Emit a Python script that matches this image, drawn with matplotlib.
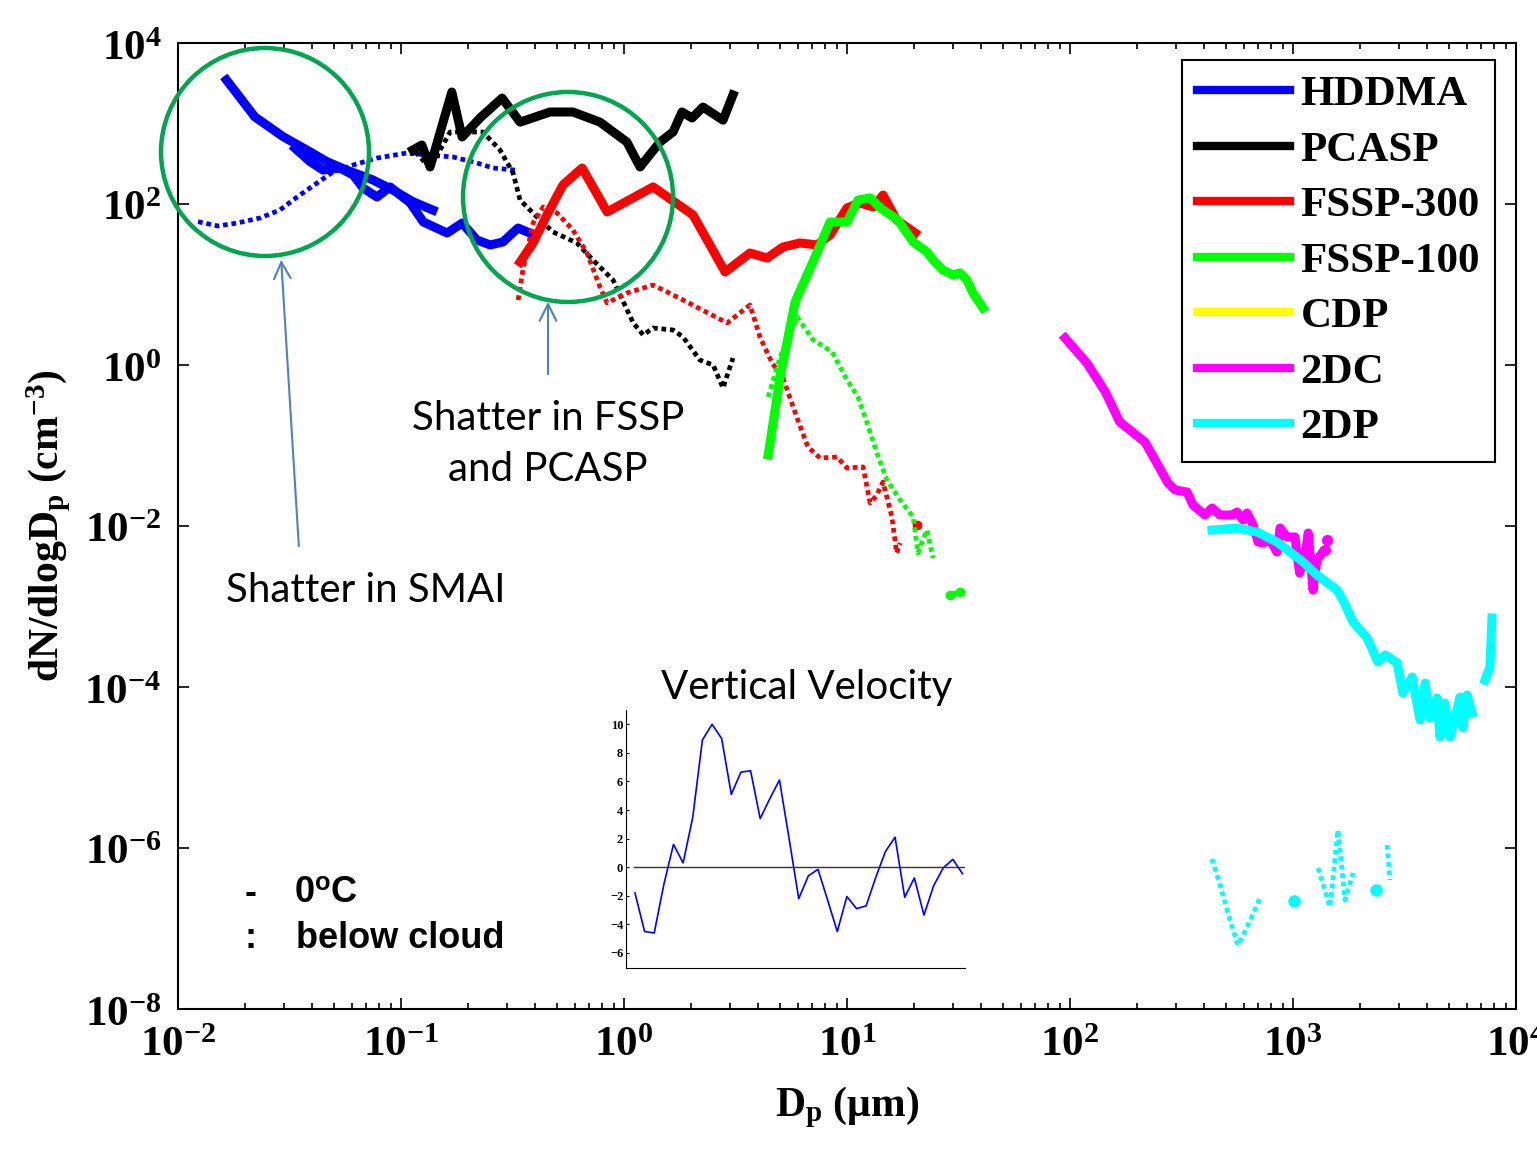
import numpy as np
import matplotlib
matplotlib.use("Agg")
import matplotlib.pyplot as plt
from matplotlib.patches import Ellipse, FancyArrowPatch
from matplotlib.lines import Line2D
from matplotlib.ticker import FuncFormatter, LogLocator, NullLocator, FixedLocator

plt.rcParams["mathtext.fontset"] = "custom"
plt.rcParams["mathtext.rm"] = "Liberation Serif:bold"
plt.rcParams["mathtext.it"] = "Liberation Serif:bold:italic"
plt.rcParams["mathtext.bf"] = "Liberation Serif:bold"
plt.rcParams["mathtext.sf"] = "Liberation Sans:bold"

# ---- size distributions (Dp in um, dN/dlogDp in cm^-3) ----
hddma_d1 = [0.0165, 0.0221, 0.0296, 0.0378, 0.0465, 0.057, 0.0748, 0.092, 0.113, 0.139]
hddma_n1 = [3470, 1210, 686, 469, 336, 264, 199, 149, 107, 84]
hddma_d2 = [0.0335, 0.0391, 0.0447, 0.0532, 0.061, 0.0676, 0.078, 0.0893, 0.110, 0.126,
            0.161, 0.188, 0.219, 0.251, 0.286, 0.335, 0.378]
hddma_n2 = [492, 336, 264, 280, 229, 158, 122, 163, 103, 59.7, 43.6, 58, 35.7, 31, 33.7, 50.3, 43.6]
hddma_bc_d = [0.0123, 0.0151, 0.0184, 0.0233, 0.0286, 0.0342, 0.042, 0.0495, 0.061, 0.078,
              0.106, 0.131, 0.171, 0.219, 0.259, 0.324]
hddma_bc_n = [60.3, 53.3, 58, 67, 84, 122, 182, 250, 305, 372, 430, 406, 384, 323, 280, 264]

pcasp_d = [0.113, 0.124, 0.135, 0.169, 0.188, 0.226, 0.284, 0.342, 0.466, 0.590, 0.780,
           1.03, 1.18, 1.45, 1.66, 1.82, 2.02, 2.26, 2.78, 3.08]
pcasp_n = [469, 541, 288, 2460, 680, 1170, 2070, 1040, 1390, 1390, 1040, 589, 288, 589,
           784, 1390, 1170, 1600, 1100, 2260]
pcasp_bc_d = [0.116, 0.135, 0.166, 0.233, 0.278, 0.318, 0.342, 0.407, 0.481, 0.615, 0.726,
              0.893, 1.10, 1.22, 1.35, 1.66, 1.84, 2.19, 2.51, 2.78, 3.08]
pcasp_bc_n = [443, 280, 784, 784, 469, 243, 112, 69, 44.9, 32.8, 20.1, 11.4, 3.33, 2.36,
              2.88, 2.72, 2.23, 1.15, 1.0, 0.518, 1.22]

fssp300_d = [0.342, 0.391, 0.456, 0.532, 0.649, 0.840, 1.35, 2.04, 2.84, 3.67, 4.38, 5.16,
             6.15, 7.33, 8.39, 10.0, 11.4, 13.1, 14.5, 16.7, 20.2]
fssp300_n = [19.0, 32.8, 77.3, 172, 280, 79.6, 163, 73, 14.3, 24.6, 21.3, 29.2, 32.8, 31,
             41.2, 89.2, 103, 91.8, 129, 63.3, 43.6]
fssp300_bc_d = [0.335, 0.352, 0.391, 0.434, 0.501, 0.590, 0.682, 0.780, 0.840, 1.03, 1.35,
                1.84, 2.90, 3.67, 4.07, 4.61, 5.16, 5.97, 6.68, 7.56, 9.02, 10.0, 11.8,
                12.7, 13.6, 14.5, 15.9, 16.7, 17.3]
fssp300_bc_n = [6.42, 15.1, 58, 91.8, 77.3, 47.5, 24.6, 9.31, 5.89, 7.84, 9.86, 6.42, 3.33,
                5.56, 2.23, 1.06, 0.690, 0.220, 0.0958, 0.070, 0.0719, 0.0525, 0.0541,
                0.0193, 0.0243, 0.0352, 0.0129, 0.00462, 0.00615]
fssp300_dot_d = [20.6]
fssp300_dot_n = [0.0103]

fssp100_d = [4.43, 5.01, 5.85, 7.19, 8.39, 10.0, 11.2, 12.7, 14.1, 16.9, 19.8, 22.8, 24.3,
             26.9, 29.9, 32.1, 34.5, 36.7, 40.7]
fssp100_n = [0.0762, 0.710, 6.07, 22, 59.7, 59.7, 112, 119, 89.2, 63.3, 33.7, 25.4, 20.1,
             15.1, 13.1, 13.9, 11.4, 7.84, 5.11]
fssp100_bc_d = [4.43, 5.01, 5.97, 7.05, 8.57, 10.0, 11.2, 12.3, 13.6, 15.1, 17.3, 19.8,
                20.8, 22.8, 24.3]
fssp100_bc_n = [0.400, 1.26, 3.95, 2.05, 1.45, 0.651, 0.400, 0.190, 0.0807, 0.0373, 0.0210,
                0.0129, 0.00462, 0.00891, 0.0040]
fssp100_dot_d = [29.0, 32.1]
fssp100_dot_n = [0.00139, 0.00151]

twodc_d = [95, 119, 144, 167, 217, 275, 296, 335, 356, 403, 433, 471, 532, 561, 597, 622,
           662, 697, 733, 789, 847, 875, 940, 1020, 1070, 1130, 1170, 1230, 1280, 1350]
twodc_n = [2.16, 1.06, 0.462, 0.196, 0.110, 0.0342, 0.028, 0.0264, 0.0182, 0.0137, 0.0167,
           0.0137, 0.0137, 0.0149, 0.0119, 0.0145, 0.0103, 0.00632, 0.00617, 0.0067,
           0.00475, 0.00944, 0.0073, 0.0073, 0.0026, 0.00412, 0.00818, 0.0016, 0.00378,
           0.00462]
twodc_dot_d = [1390, 1420]
twodc_dot_n = [0.00503, 0.0067]

twodp_d = [433, 561, 690, 847, 970, 1110, 1280, 1575, 1675, 1860, 2150, 2400, 2590, 2930,
           3110, 3420, 3710, 3910, 4110, 4420, 4560, 4800, 5060, 5320, 5610, 5780, 6030, 6350]
twodp_n = [0.00891, 0.00944, 0.00841, 0.00632, 0.00475, 0.00357, 0.00246, 0.0016, 0.0012,
           0.00064, 0.000406, 0.000205, 0.00025, 0.000199, 8.4e-5, 1.33e-4, 3.9e-5, 1.12e-4,
           4.12e-5, 7.3e-5, 2.39e-5, 6.3e-5, 2.39e-5, 4.12e-5, 7.5e-5, 3.1e-5, 7.96e-5, 4.75e-5]
twodp_d2 = [7260, 7640, 7800]
twodp_n2 = [1.22e-4, 1.77e-4, 7.2e-4]
twodp_bc_d1 = [433, 471, 521, 566, 628, 711]
twodp_bc_n1 = [7.3e-7, 3.47e-7, 1.28e-7, 6.2e-8, 1.10e-7, 2.39e-7]
twodp_bc_d2 = [1295, 1465, 1590, 1710, 1860]
twodp_bc_n2 = [5.65e-7, 1.85e-7, 1.67e-6, 2.26e-7, 4.9e-7]
twodp_bc_d3 = [2640, 2720]
twodp_bc_n3 = [1.09e-6, 4.0e-7]
twodp_dot_d = [1010, 2355]
twodp_dot_n = [2.2e-7, 3.0e-7]

# ---- vertical velocity inset ----
w_vel = [-1.8, -4.5, -4.6, -1.2, 1.6, 0.3, 3.5, 8.9, 10, 9, 5.1, 6.65, 6.75, 3.4, 4.8, 6.1,
         2, -2.2, -0.6, -0.15, -2.3, -4.5, -2.05, -2.9, -2.7, -0.7, 1.1, 2.1, -2.1, -0.75,
         -3.35, -1.3, -0.05, 0.55, -0.45]

instruments = ["HDDMA", "PCASP", "FSSP-300", "FSSP-100", "CDP", "2DC", "2DP"]
colors = ["#0000FF", "#000000", "#FF0000", "#00FF00", "#FFFF00", "#FF00FF", "#00FFFF"]

W, H = 1537, 1153
fig = plt.figure(figsize=(W / 100, H / 100), dpi=100)
ax = fig.add_axes([178 / W, 1 - 1009 / H, (1516 - 178) / W, (1009 - 43) / H])

LW = 6.5
DOT = dict(lw=3.4, linestyle=(0, (1, 0.8)), dash_capstyle="butt")

ax.plot(hddma_d1, hddma_n1, color=colors[0], lw=LW)
ax.plot(hddma_d2, hddma_n2, color=colors[0], lw=LW)
ax.plot(hddma_bc_d, hddma_bc_n, color=colors[0], **DOT)
ax.plot(pcasp_d, pcasp_n, color=colors[1], lw=LW)
ax.plot(pcasp_bc_d, pcasp_bc_n, color=colors[1], **DOT)
ax.plot(fssp300_d, fssp300_n, color=colors[2], lw=LW)
ax.plot(fssp300_bc_d, fssp300_bc_n, color=colors[2], **DOT)
ax.plot(fssp300_dot_d, fssp300_dot_n, "o", color=colors[2], ms=6)
ax.plot(fssp100_d, fssp100_n, color=colors[3], lw=LW)
ax.plot(fssp100_bc_d, fssp100_bc_n, color=colors[3], **DOT)
ax.plot(fssp100_dot_d, fssp100_dot_n, "o-", color=colors[3], ms=6, lw=4)
ax.plot(twodc_d, twodc_n, color=colors[5], lw=LW)
ax.plot(twodc_dot_d, twodc_dot_n, "o", color=colors[5], ms=7)
ax.plot(twodp_d, twodp_n, color=colors[6], lw=LW)
ax.plot(twodp_d2, twodp_n2, color=colors[6], lw=LW)
for d, n in [(twodp_bc_d1, twodp_bc_n1), (twodp_bc_d2, twodp_bc_n2), (twodp_bc_d3, twodp_bc_n3)]:
    ax.plot(d, n, color=colors[6], **DOT)
ax.plot(twodp_dot_d, twodp_dot_n, "o", color=colors[6], ms=8)

ax.set_xscale("log")
ax.set_yscale("log")
ax.set_xlim(1e-2, 1e4)
ax.set_ylim(1e-8, 1e4)
ax.yaxis.set_major_locator(FixedLocator([10.0 ** k for k in range(-8, 5, 2)]))
ax.yaxis.set_minor_locator(NullLocator())
ax.xaxis.set_major_locator(FixedLocator([10.0 ** k for k in range(-2, 5)]))
ax.xaxis.set_minor_locator(LogLocator(base=10, subs=np.arange(2, 10), numticks=50))
fmt = FuncFormatter(lambda v, p: r"$10^{%d}$" % int(round(np.log10(v))))
ax.xaxis.set_major_formatter(fmt)
ax.yaxis.set_major_formatter(fmt)
ax.tick_params(which="both", direction="in", top=True, right=True, width=1.2)
ax.tick_params(which="major", length=8, labelsize=31)
ax.tick_params(which="minor", length=4)
ax.tick_params(axis="x", pad=10)
ax.tick_params(axis="y", pad=12)
for s in ax.spines.values():
    s.set_linewidth(1.5)

ax.set_xlabel("D$_{\\rm p}$ (μm)", family="Liberation Serif", weight="bold", fontsize=30,
              labelpad=14)
ax.set_ylabel("dN/dlogD$_{\\rm p}$ (cm$^{-3}$)", family="Liberation Serif", weight="bold",
              fontsize=30, labelpad=8)

handles = [Line2D([], [], color=c, lw=6) for c in colors]
leg = ax.legend(handles, instruments, loc="upper left",
                bbox_to_anchor=(1182 / W, 1 - 60 / H), bbox_transform=fig.transFigure,
                prop=dict(family="Liberation Serif", weight="bold", size=31),
                handlelength=2.15, handletextpad=0.25, labelspacing=0.38,
                borderpad=0.35, borderaxespad=0, fancybox=False, framealpha=1)
leg.get_frame().set_edgecolor("black")
leg.get_frame().set_linewidth(1.5)

# shatter circles and arrows
green = "#00A550"
for cx, cy, r in [(265, 152, 104), (568, 197, 105)]:
    fig.patches.append(Ellipse((cx / W, 1 - cy / H), 2 * r / W, 2 * r / H,
                               transform=fig.transFigure, fill=False,
                               edgecolor=green, lw=3.2, zorder=5))
arrow_kw = dict(arrowstyle="->,head_length=12,head_width=6", color="#4F81BD", lw=1.5,
                mutation_scale=1)
fig.add_artist(FancyArrowPatch((299 / W, 1 - 549 / H), (281 / W, 1 - 257 / H),
                               transform=fig.transFigure, **arrow_kw))
fig.add_artist(FancyArrowPatch((548 / W, 1 - 377 / H), (548 / W, 1 - 299 / H),
                               transform=fig.transFigure, **arrow_kw))

sans = "Lato"
fig.text(366 / W, 1 - 590 / H, "Shatter in SMAI", family=sans, fontsize=29,
         ha="center", va="center")
fig.text(548 / W, 1 - 444 / H, "Shatter in FSSP\nand PCASP", family=sans, fontsize=29,
         ha="center", va="center", linespacing=1.45)
fig.text(807 / W, 1 - 688 / H, "Vertical Velocity", family=sans, fontsize=29,
         ha="center", va="center")

fig.text(245 / W, 1 - 893 / H, "-", family="Liberation Sans", weight="bold", fontsize=26,
         ha="left", va="center")
fig.text(294 / W, 1 - 893 / H, "0$^{\\mathsf{o}}$C", family="Liberation Sans",
         weight="bold", fontsize=26, ha="left", va="center")
fig.text(245 / W, 1 - 938 / H, ":", family="Liberation Sans", weight="bold", fontsize=26,
         ha="left", va="center")
fig.text(296 / W, 1 - 938 / H, "below cloud", family="Liberation Sans", weight="bold",
         fontsize=26, ha="left", va="center")

# inset
iax = fig.add_axes([626 / W, 1 - 968 / H, (965 - 626) / W, (968 - 710) / H])
t = np.arange(len(w_vel))
iax.plot(t, w_vel, color="#0000FF", lw=1.2)
iax.axhline(0, color="#333333", lw=1.0, xmin=0.025)
iax.set_xlim(-0.93, 34.26)
iax.set_ylim(-7.05, 11)
iax.set_yticks(range(-6, 11, 2))
iax.set_xticks([])
iax.spines["top"].set_visible(False)
iax.spines["right"].set_visible(False)
iax.tick_params(axis="y", direction="in", length=2, labelsize=9, pad=2)
for lab in iax.get_yticklabels():
    lab.set_family("Liberation Serif")
    lab.set_weight("bold")
iax.patch.set_alpha(0)

fig.savefig("out.png", dpi=100, facecolor="white")
